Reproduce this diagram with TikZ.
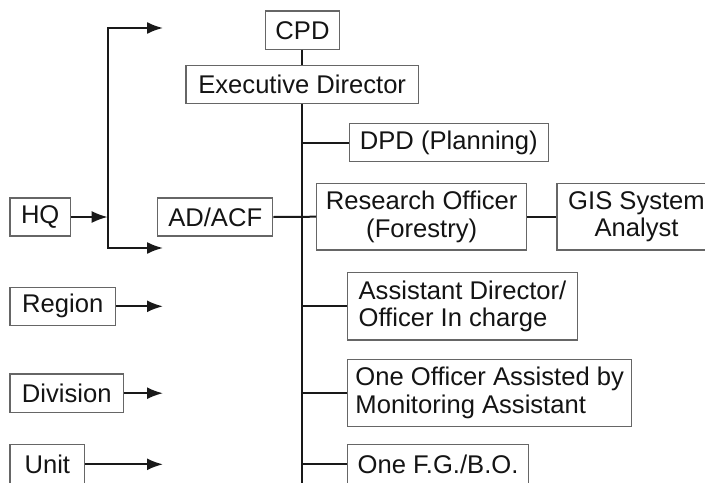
\documentclass[tikz,border=0pt]{standalone}
\usepackage{fontspec}
\setmainfont{Liberation Sans}
\usetikzlibrary{arrows.meta}
\begin{document}
\begin{tikzpicture}[x=0.5pt,y=-0.5pt,
 box/.style={draw=black!60, line width=0.6pt, inner sep=0pt, fill=white,
   font=\fontsize{12.8}{13.7}\selectfont, text=black!92},
 conn/.style={line width=1pt, draw=black!90},
 arr/.style={conn, -{Latex[length=8pt,width=6pt]}}]
\useasboundingbox (0,0) rectangle (705,482);
\clip (0,0) rectangle (705,482);
\coordinate (tb) at (301.7,484);
\coordinate (ax) at (163,0);
\coordinate (split) at (107.7,217);
\coordinate (bt) at (163,28);
\coordinate (bb) at (163,248);

\node[box, minimum width=36.8pt, minimum height=19.15pt] (cpd) at (302.5,30.2) {CPD};
\node[box, minimum width=116.15pt, minimum height=19.1pt] (exec) at (302.2,84.4) {Executive Director};
\node[box, minimum width=99.5pt, minimum height=19.1pt] (dpd) at (448.8,142.6) {DPD (Planning)};
\node[box, minimum width=105pt, minimum height=33.35pt, align=center] (ro) at (421.7,216.7) {Research Officer\\(Forestry)};
\node[box, minimum width=79.5pt, minimum height=33.35pt, align=center] (gis) at (636.5,216.7) {GIS System\\Analyst};
\node[box, minimum width=57.5pt, minimum height=19pt] (adacf) at (215.2,217) {AD/ACF};
\node[box, minimum width=30.15pt, minimum height=19pt] (hq) at (40.2,217) {HQ};
\node[box, minimum width=52.85pt, minimum height=19pt] (region) at (62.8,306.3) {Region};
\node[box, minimum width=56.65pt, minimum height=19.15pt] (division) at (66.7,393.2) {Division};
\node[box, minimum width=37.35pt, minimum height=20pt] (unit) at (47.3,464.3) {Unit};
\node[box, minimum width=114.8pt, minimum height=33.85pt, align=left] (asst) at (462.5,306.2) {Assistant Director/\\Officer In charge};
\node[box, minimum width=142pt, minimum height=33.7pt, align=left] (oneoff) at (489.7,393) {One Officer Assisted by\\Monitoring Assistant};
\node[box, minimum width=90.3pt, minimum height=20pt] (fgbo) at (438,464.3) {One F.G./B.O.};

\draw[conn] (cpd.south -| tb) -- (exec.north -| tb);
\draw[conn] (exec.south -| tb) -- (tb);
\draw[conn] (dpd.west) -- (dpd.west -| tb);
\draw[conn] (adacf.east) -- (ro.west);
\draw[conn] (ro.east) -- (gis.west);
\draw[conn] (asst.west) -- (asst.west -| tb);
\draw[conn] (oneoff.west) -- (oneoff.west -| tb);
\draw[conn] (fgbo.west) -- (fgbo.west -| tb);

\draw[arr] (hq.east) -- (split);
\draw[arr] (split) |- (bt);
\draw[arr] (split) |- (bb);
\draw[arr] (region.east) -- (region.east -| ax);
\draw[arr] (division.east) -- (division.east -| ax);
\draw[arr] (unit.east) -- (unit.east -| ax);
\end{tikzpicture}
\end{document}
